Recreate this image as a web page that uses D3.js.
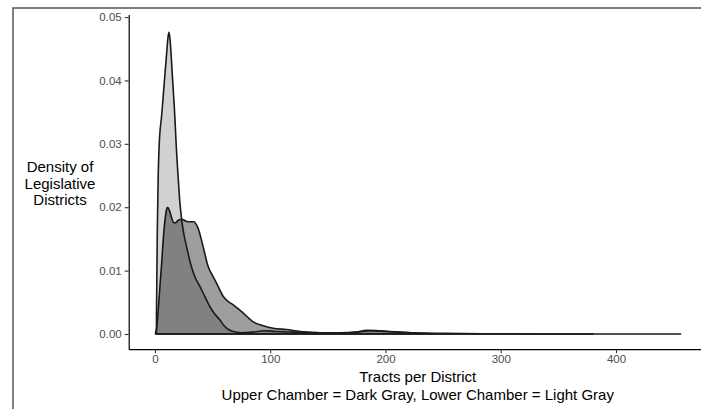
<!DOCTYPE html>
<html>
<head>
<meta charset="utf-8">
<script src="https://cdn.jsdelivr.net/npm/d3@7"></script>
<style>
  body { margin: 0; background: #fff; }
  svg { display: block; font-family: "Liberation Sans", Arial, sans-serif; }
</style>
</head>
<body>
<div id="chart"></div>
<script>
// chart data
const upperX = [0.5, 1.5, 2.9, 4.5, 5.8, 7.2, 8.7, 10, 11, 12.5, 14.5, 16, 17.4, 20, 23.2, 27, 30.4, 33.8, 35.8, 37.6, 39.8, 41.9, 46.2, 50, 53.5, 59.3, 63, 67.9, 76.6, 85.3, 94, 102.6, 114, 126, 143, 160, 175, 183.7, 195, 212, 236, 247, 300, 456];
const upperY = [0.0002, 0.0010, 0.0040, 0.0080, 0.0112, 0.0150, 0.0180, 0.0196, 0.0200, 0.0195, 0.0183, 0.0176, 0.0175, 0.0179, 0.0181, 0.0178, 0.0177, 0.0177, 0.0173, 0.0166, 0.0152, 0.0137, 0.0106, 0.0092, 0.0080, 0.0059, 0.0052, 0.0046, 0.0033, 0.0019, 0.0013, 0.0009, 0.0007, 0.0004, 0.0002, 0.0001, 0.0003, 0.0006, 0.0005, 0.0003, 0.0001, 0.00003, 0.00001, 0];

const lowerX = [1.3, 2, 2.8, 3.7, 5.8, 8, 10, 11.3, 12.1, 13, 15, 17.4, 18.2, 20, 21.5, 23.2, 25, 27.5, 31, 34.7, 39, 43, 47.7, 52, 56.4, 60, 65, 70, 75, 85, 95, 105, 120, 140, 160, 175, 187, 200, 220, 250, 300, 380];
const lowerY = [0.003, 0.016, 0.025, 0.0300, 0.0345, 0.0395, 0.0440, 0.0468, 0.0476, 0.0466, 0.0410, 0.0337, 0.0306, 0.0250, 0.0210, 0.0180, 0.0158, 0.0137, 0.0110, 0.0090, 0.0075, 0.0060, 0.0043, 0.0031, 0.0022, 0.0013, 0.0006, 0.0003, 0.0002, 0.0003, 0.0005, 0.0004, 0.0003, 0.0002, 0.0002, 0.0003, 0.0005, 0.0004, 0.0002, 0.0001, 0.00003, 0];

const xTicks = [0, 100, 200, 300, 400];
const yTicks = [0, 0.01, 0.02, 0.03, 0.04, 0.05];

const yLabelLines = ["Density of", "Legislative", "Districts"];
const xTitleLines = ["Tracts per District", "Upper Chamber = Dark Gray, Lower Chamber = Light Gray"];

// frame
const WIDTH = 701;
const HEIGHT = 409;
const PANEL = {left: 128.7, right: 706.8, top: 14.5, bottom: 349.2};

const svg = d3.select('#chart')
  .append('svg')
  .attr('width', WIDTH)
  .attr('height', HEIGHT);

// screenshot border (top and left)
svg.append('path')
  .attr('d', `M13,${HEIGHT} L13,8 L${WIDTH},8`)
  .attr('fill', 'none')
  .attr('stroke', '#555')
  .attr('stroke-width', 1.5);

// scales with ggplot style 5% expansion
const xMax = d3.max(upperX);
const x = d3.scaleLinear()
  .domain([-0.05 * xMax, xMax * 1.05])
  .range([PANEL.left, PANEL.right]);

const y = d3.scaleLinear()
  .domain([-0.0024, 0.0504])
  .range([PANEL.bottom, PANEL.top]);

const upper = upperX.map((v, i) => ({x: v, y: upperY[i]}));
const lower = lowerX.map((v, i) => ({x: v, y: lowerY[i]}));

// closed density outline: up from baseline, along the curve, back along baseline
function densityPath(pts) {
  const first = pts[0], last = pts[pts.length - 1];
  const line = d3.line()
    .x(d => x(d.x))
    .y(d => y(d.y))
    .curve(d3.curveMonotoneX);
  return `M${x(first.x)},${y(0)}L` + line(pts).slice(1) +
    `L${x(last.x)},${y(0)}Z`;
}

// upper chamber (dark gray)
svg.append('path')
  .attr('d', densityPath(upper))
  .attr('fill', '#9e9e9e')
  .attr('stroke', '#1a1a1a')
  .attr('stroke-width', 1.6)
  .attr('stroke-linejoin', 'round');

// lower chamber (light gray, translucent)
svg.append('path')
  .attr('d', densityPath(lower))
  .attr('fill', 'rgba(0,0,0,0.18)')
  .attr('stroke', '#1a1a1a')
  .attr('stroke-width', 1.6)
  .attr('stroke-linejoin', 'round');

// axes
const xAxis = svg.append('g')
  .attr('transform', `translate(0,${PANEL.bottom})`)
  .call(d3.axisBottom(x).tickValues(xTicks).tickSizeInner(4).tickSizeOuter(0).tickPadding(2));

const yAxis = svg.append('g')
  .attr('transform', `translate(${PANEL.left},0)`)
  .call(d3.axisLeft(y).tickValues(yTicks).tickFormat(d3.format('.2f')).tickSizeInner(4).tickSizeOuter(0).tickPadding(3));

[xAxis, yAxis].forEach(g => {
  g.select('.domain').attr('stroke', '#000').attr('stroke-width', 1.2);
  g.selectAll('.tick line').attr('stroke', '#333').attr('stroke-width', 1.1);
  g.selectAll('.tick text')
    .attr('fill', '#4d4d4d')
    .style('font-size', '11.5px')
    .style('font-family', '"Liberation Sans", Arial, sans-serif');
});

// y label (horizontal, three lines)
svg.append('g')
  .selectAll('text')
  .data(yLabelLines)
  .join('text')
  .attr('x', 60)
  .attr('y', (d, i) => 172 + i * 16.5)
  .attr('text-anchor', 'middle')
  .attr('fill', '#000')
  .style('font-size', '15px')
  .text(d => d);

// x title, two lines
const xCenter = (PANEL.left + PANEL.right) / 2;
svg.append('g')
  .selectAll('text')
  .data(xTitleLines)
  .join('text')
  .attr('x', xCenter)
  .attr('y', (d, i) => 382 + i * 17.5)
  .attr('text-anchor', 'middle')
  .style('font-size', '15px')
  .text(d => d);
</script>
</body>
</html>
